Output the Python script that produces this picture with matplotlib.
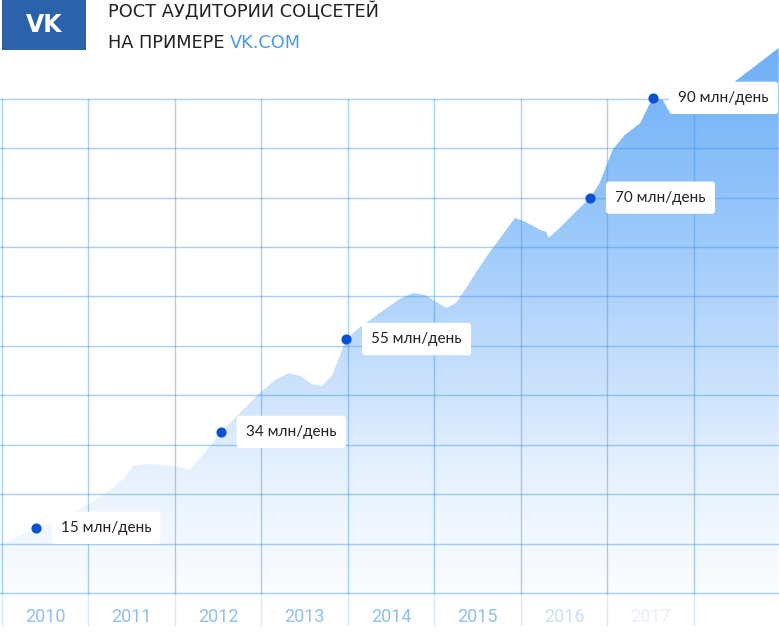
import numpy as np
import matplotlib
matplotlib.use("Agg")
from matplotlib import pyplot as plt
from matplotlib.patches import Polygon, Rectangle
from matplotlib.colors import LinearSegmentedColormap

# data: years on x, grid levels on y (chart is illustrative, 10 grid rows)
years = [2010, 2011, 2012, 2013, 2014, 2015, 2016, 2017]
year_colors = ["#8fbff3", "#8fbff3", "#8fbff3", "#8fbff3", "#8fbff3", "#8fbff3", "#c9def7", "#e8eff9"]

point_x = [2010.39, 2012.53, 2013.98, 2016.80, 2017.53]
point_y = [1.32, 3.26, 5.14, 8.00, 10.02]
point_labels = ["15 млн/день", "34 млн/день", "55 млн/день", "70 млн/день", "90 млн/день"]

# outline of the audience area
area_x = [2009.98, 2010.21, 2010.39, 2010.67, 2010.99, 2011.25, 2011.42, 2011.51, 2011.71, 2012.00,
          2012.17, 2012.35, 2012.53, 2012.75, 2012.98, 2013.16, 2013.31, 2013.45, 2013.58, 2013.70,
          2013.82, 2013.91, 2013.98, 2014.14, 2014.37, 2014.60, 2014.75, 2014.89, 2015.04, 2015.14,
          2015.25, 2015.35, 2015.50, 2015.64, 2015.78, 2015.93, 2016.05, 2016.22, 2016.29, 2016.32,
          2016.45, 2016.62, 2016.80, 2016.91, 2016.99, 2017.06, 2017.20, 2017.38, 2017.47, 2017.53,
          2017.64, 2017.70, 2018.07, 2018.45, 2018.98]
area_y = [0.97, 1.17, 1.32, 1.48, 1.78, 2.09, 2.33, 2.57, 2.61, 2.57,
          2.49, 2.85, 3.26, 3.64, 4.05, 4.31, 4.45, 4.39, 4.23, 4.19,
          4.41, 4.82, 5.14, 5.38, 5.67, 5.95, 6.07, 6.03, 5.87, 5.77,
          5.87, 6.13, 6.54, 6.90, 7.23, 7.59, 7.51, 7.35, 7.31, 7.19,
          7.39, 7.69, 8.00, 8.30, 8.66, 8.97, 9.27, 9.51, 9.84, 10.02,
          9.98, 9.78, 9.78, 10.32, 11.03]

title1 = "РОСТ АУДИТОРИИ СОЦСЕТЕЙ"
title2a = "НА ПРИМЕРЕ "
title2b = "VK.COM"

x0, x1 = 2009.977, 2018.983
y0, y1 = -0.85, 12.0

fig = plt.figure(figsize=(7.79, 6.35), dpi=100)
ax = fig.add_axes([0, 0, 1, 1])
ax.set_xlim(x0, x1)
ax.set_ylim(y0, y1)
ax.axis("off")

# gradient filled area
verts = list(zip(area_x, area_y)) + [(area_x[-1], 0), (area_x[0], 0)]
poly = Polygon(verts, closed=True, facecolor="none", edgecolor="none")
ax.add_patch(poly)
top = 11.1
cmap = LinearSegmentedColormap.from_list(
    "vkgrad",
    [(0.0, "#fbfdff"), (2.5 / top, "#e6f1fe"), (5 / top, "#bfdbfc"),
     (7.5 / top, "#98c7fa"), (10 / top, "#7ab6f8"), (1.0, "#70b0f7")])
grad = np.linspace(0, 1, 256).reshape(-1, 1)
im = ax.imshow(grad, cmap=cmap, aspect="auto", origin="lower",
               extent=[x0, x1, 0, top], zorder=1)
im.set_clip_path(poly)

# grid on top of area
gcol = "#3a95f5"
for lev in range(11):
    ax.plot([x0, x1], [lev, lev], color=gcol, alpha=0.45, lw=1.0, zorder=2)
for yr in range(2010, 2019):
    ax.plot([yr, yr], [0, 10], color=gcol, alpha=0.45, lw=1.0, zorder=2)
    ax.plot([yr, yr], [-0.65, 0], color=gcol, alpha=0.2, lw=1.0, zorder=2)

# year labels
for yr, c in zip(years, year_colors):
    ax.text(yr + 0.5, -0.49, str(yr), ha="center", va="center", fontsize=13,
            color=c, family="Roboto", zorder=3)

# points + labels
ax.plot(point_x, point_y, "o", color="#0b50d4", ms=6.3, zorder=5)
for px, py, lab in zip(point_x, point_y, point_labels):
    ax.annotate(lab, xy=(px, py), xytext=(18, 0), textcoords="offset points",
                ha="left", va="center", fontsize=11, family="Lato", color="#222222",
                bbox=dict(boxstyle="round,pad=0.6,rounding_size=0.2", fc="white", ec="none"),
                zorder=6)

# header
fig.patches.append(Rectangle((2 / 779, 1 - 50 / 635), 84 / 779, 50 / 635,
                             transform=fig.transFigure, facecolor="#2c61ac",
                             edgecolor="none", zorder=10))
fig.text(44 / 779, 1 - 25 / 635, "VK", ha="center", va="center", color="white",
         fontsize=17, fontweight="bold", family="DejaVu Sans", zorder=11)
fig.text(108 / 779, 1 - 12 / 635, title1, ha="left", va="center", fontsize=12.8,
         color="#222222", family="DejaVu Sans")
t2 = fig.text(108 / 779, 1 - 43 / 635, title2a, ha="left", va="center", fontsize=12.8,
              color="#222222", family="DejaVu Sans")
ax.annotate(title2b, xy=(1, 0), xycoords=t2, ha="left", va="bottom", fontsize=12.8,
            color="#4a9af0", family="DejaVu Sans", annotation_clip=False)

plt.savefig("out.png", dpi=100)
